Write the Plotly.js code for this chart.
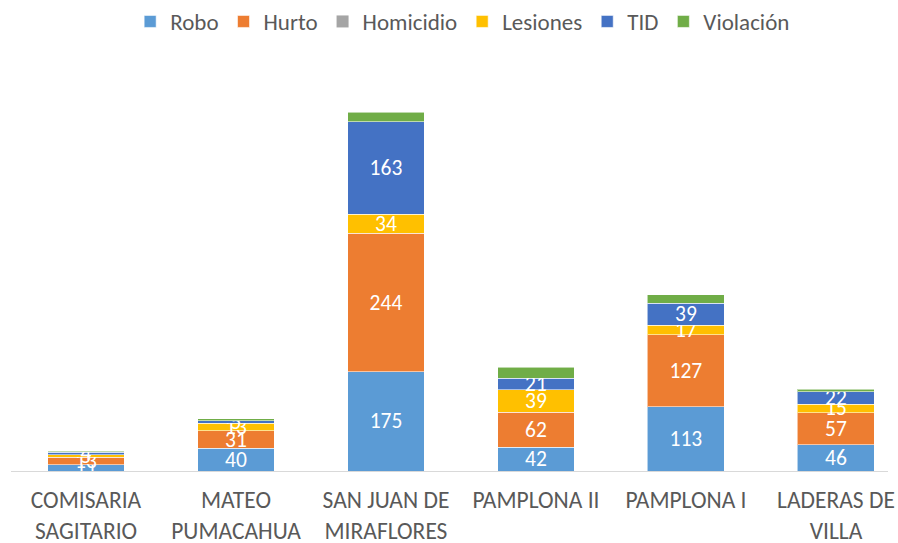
<!DOCTYPE html>
<html>
<head>
<meta charset="utf-8">
<script src="https://cdn.plot.ly/plotly-3.0.1.min.js"></script>
<style>html,body{margin:0;padding:0;background:#fff;}#chart{width:898px;height:543px;}</style>
</head>
<body>
<div id="chart"></div>
<script>
var categories = ["COMISARIA<br>SAGITARIO", "MATEO<br>PUMACAHUA", "SAN JUAN DE<br>MIRAFLORES", "PAMPLONA II", "PAMPLONA I", "LADERAS DE<br>VILLA"];
var robo      = [11, 40, 175, 42, 113, 46];
var hurto     = [13, 31, 244, 62, 127, 57];
var homicidio = [0, 0, 0, 0, 0, 0];
var lesiones  = [5, 13, 34, 39, 17, 15];
var tid       = [4, 5, 163, 21, 39, 22];
var violacion = [2, 3, 17, 19, 15, 4];

var FONT = "Carlito, Calibri, Lato, 'Noto Sans', sans-serif";

function mk(name, vals, color, labels, lw) {
  return {
    type: 'bar', name: name, x: categories, y: vals,
    marker: {color: color, line: {color: 'rgba(255,255,255,0.55)', width: lw}},
    text: labels ? vals.map(String) : null,
    textposition: labels ? 'inside' : 'none',
    insidetextanchor: 'middle',
    textangle: 0,
    textfont: {color: '#ffffff', size: 21.5, family: FONT},
    hoverinfo: 'y+name'
  };
}

var data = [
  mk('Robo', robo, '#5B9BD5', true, 1),
  mk('Hurto', hurto, '#ED7D31', true, 1),
  mk('Homicidio', homicidio, '#A5A5A5', false, 0),
  mk('Lesiones', lesiones, '#FFC000', true, 1),
  mk('TID', tid, '#4472C4', true, 1),
  mk('Violación', violacion, '#70AD47', false, 1)
];

var layout = {
  width: 898, height: 543,
  margin: {l: 11, r: 10, t: 60, b: 72, pad: 0},
  barmode: 'stack',
  bargap: 0.487,
  paper_bgcolor: '#ffffff', plot_bgcolor: '#ffffff',
  font: {family: FONT, color: '#595959', size: 21},
  uniformtext: {mode: 'show', minsize: 21.5},
  showlegend: true,
  legend: {orientation: 'h', x: 0.515, xanchor: 'center', y: 1.0, yref: 'container', yanchor: 'top',
           font: {size: 23, color: '#595959', family: FONT}, itemwidth: 30, traceorder: 'normal'},
  xaxis: {type: 'category', range: [-0.5, 5.347], showline: true, linecolor: '#D9D9D9', linewidth: 1,
          ticks: '', ticklabelstandoff: 8, showgrid: false, zeroline: false,
          tickfont: {size: 23.5, color: '#595959', family: FONT}},
  yaxis: {range: [0, 725], visible: false, showgrid: false, zeroline: false}
};

Plotly.newPlot('chart', data, layout, {displayModeBar: false, staticPlot: true});
</script>
</body>
</html>
